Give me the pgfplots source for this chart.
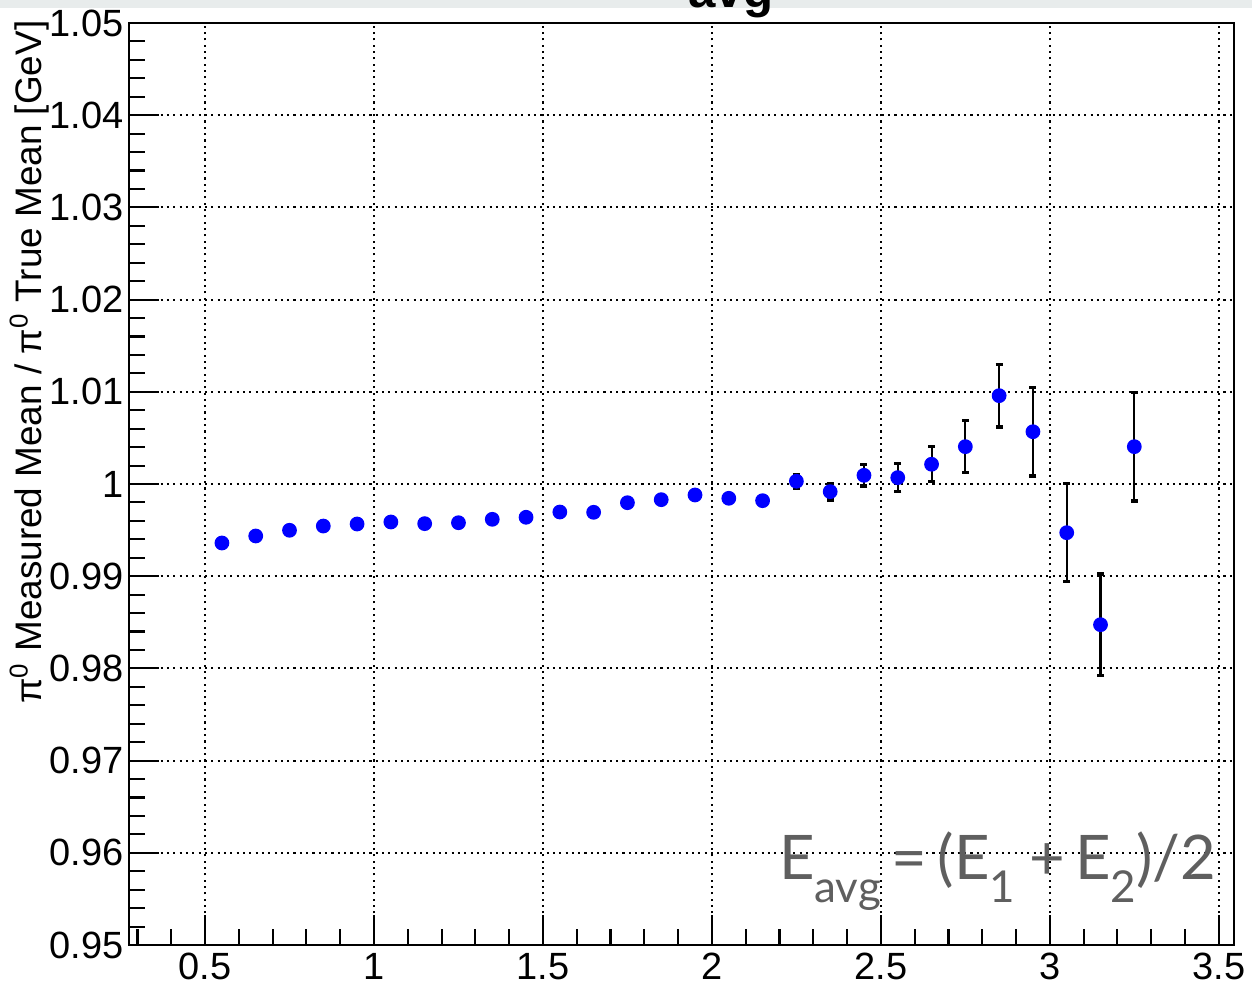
\documentclass[border=0pt]{standalone}
\usepackage{fontspec}
\setmainfont{Liberation Sans}
\newfontfamily\latofont{Lato}
\usepackage{pgfplots}
\pgfplotsset{compat=1.18}
\definecolor{bandgray}{RGB}{232,236,236}
\definecolor{textgray}{RGB}{95,95,95}
\definecolor{rootblue}{RGB}{0,0,255}
\newcommand{\sub}[1]{\raisebox{-6.3pt}{\fontsize{12.5}{12.5}\selectfont #1}}

\pgfplotstableread{
x y ey
0.55 0.99360 0.0002
0.65 0.99436 0.0002
0.75 0.99498 0.0002
0.85 0.99544 0.0002
0.95 0.99566 0.0002
1.05 0.99588 0.0002
1.15 0.99570 0.0002
1.25 0.99580 0.0003
1.35 0.99617 0.0003
1.45 0.99639 0.0003
1.55 0.99696 0.0003
1.65 0.99693 0.0003
1.75 0.99797 0.0003
1.85 0.99830 0.0004
1.95 0.99881 0.0004
2.05 0.99845 0.0004
2.15 0.99819 0.0005
2.25 1.00030 0.00076
2.35 0.99917 0.0009
2.45 1.00094 0.00116
2.55 1.00069 0.0015
2.65 1.00214 0.0019
2.75 1.00405 0.0028
2.85 1.00958 0.0034
2.95 1.00567 0.0048
3.05 0.99472 0.0053
3.15 0.98474 0.0055
3.25 1.00405 0.0059
}\ratiotable

\begin{document}
\begin{tikzpicture}
\useasboundingbox (-1.29,-0.42) rectangle (11.23,9.45);
\fill[bandgray] (-1.29,9.37) rectangle (11.23,9.45);
\begin{axis}[
    at={(0,0)}, anchor=south west,
    scale only axis,
    width=11.05cm, height=9.22cm,
    xmin=0.275, xmax=3.545,
    ymin=0.95, ymax=1.05,
    xtick={0.5,1,1.5,2,2.5,3,3.5},
    minor xtick={0.3,0.4,0.6,0.7,0.8,0.9,1.1,1.2,1.3,1.4,1.6,1.7,1.8,1.9,2.1,2.2,2.3,2.4,2.6,2.7,2.8,2.9,3.1,3.2,3.3,3.4,3.5},
    ytick={0.95,0.96,0.97,0.98,0.99,1,1.01,1.02,1.03,1.04,1.05},
    minor y tick num=4,
    tick pos=left,
    tick align=inside,
    major tick length=0.3cm,
    minor tick length=0.16cm,
    tick style={black, line width=0.6pt},
    axis line style={black, line width=0.8pt},
    xmajorgrids=true, ymajorgrids=true,
    grid style={black, line width=0.55pt, dash pattern=on 0.6pt off 1.2pt},
    ticklabel style={font=\fontsize{10.8}{12}\selectfont},
    /pgf/number format/assume math mode=true,
    /pgf/number format/fixed,
    /pgf/number format/precision=2,
    xticklabel style={yshift=1.2pt},
    yticklabel style={xshift=2pt},
  ]
  \addplot[only marks, mark=*, mark size=1.9pt,
    mark options={draw=rootblue, fill=rootblue},
    error bars/.cd, y dir=both, y explicit,
    error bar style={black, line width=0.6pt},
    error mark=-,
    error mark options={rotate=90, black, line width=0.9pt, mark size=1pt}]
    table[x=x, y=y, y error=ey] {\ratiotable};
\end{axis}
\node[rotate=90, anchor=base east, inner sep=0pt, font=\fontsize{10.5}{12}\selectfont]
  at (-0.875,9.25) {π\textsuperscript{0} Measured Mean / π\textsuperscript{0} True Mean [GeV]};
\node[anchor=base, inner sep=0pt, font=\bfseries\fontsize{14}{14}\selectfont] at (6.02,9.37) {avg};
\node[anchor=base east, inner sep=0pt, text=textgray, font=\latofont\fontsize{17.5}{17.5}\selectfont]
  at (10.88,0.65) {E\sub{avg}\hspace{3pt}=\hspace{3pt}(E\sub{1}\hspace{4pt}+\hspace{3pt}E\sub{2})/2};
\end{tikzpicture}
\end{document}
